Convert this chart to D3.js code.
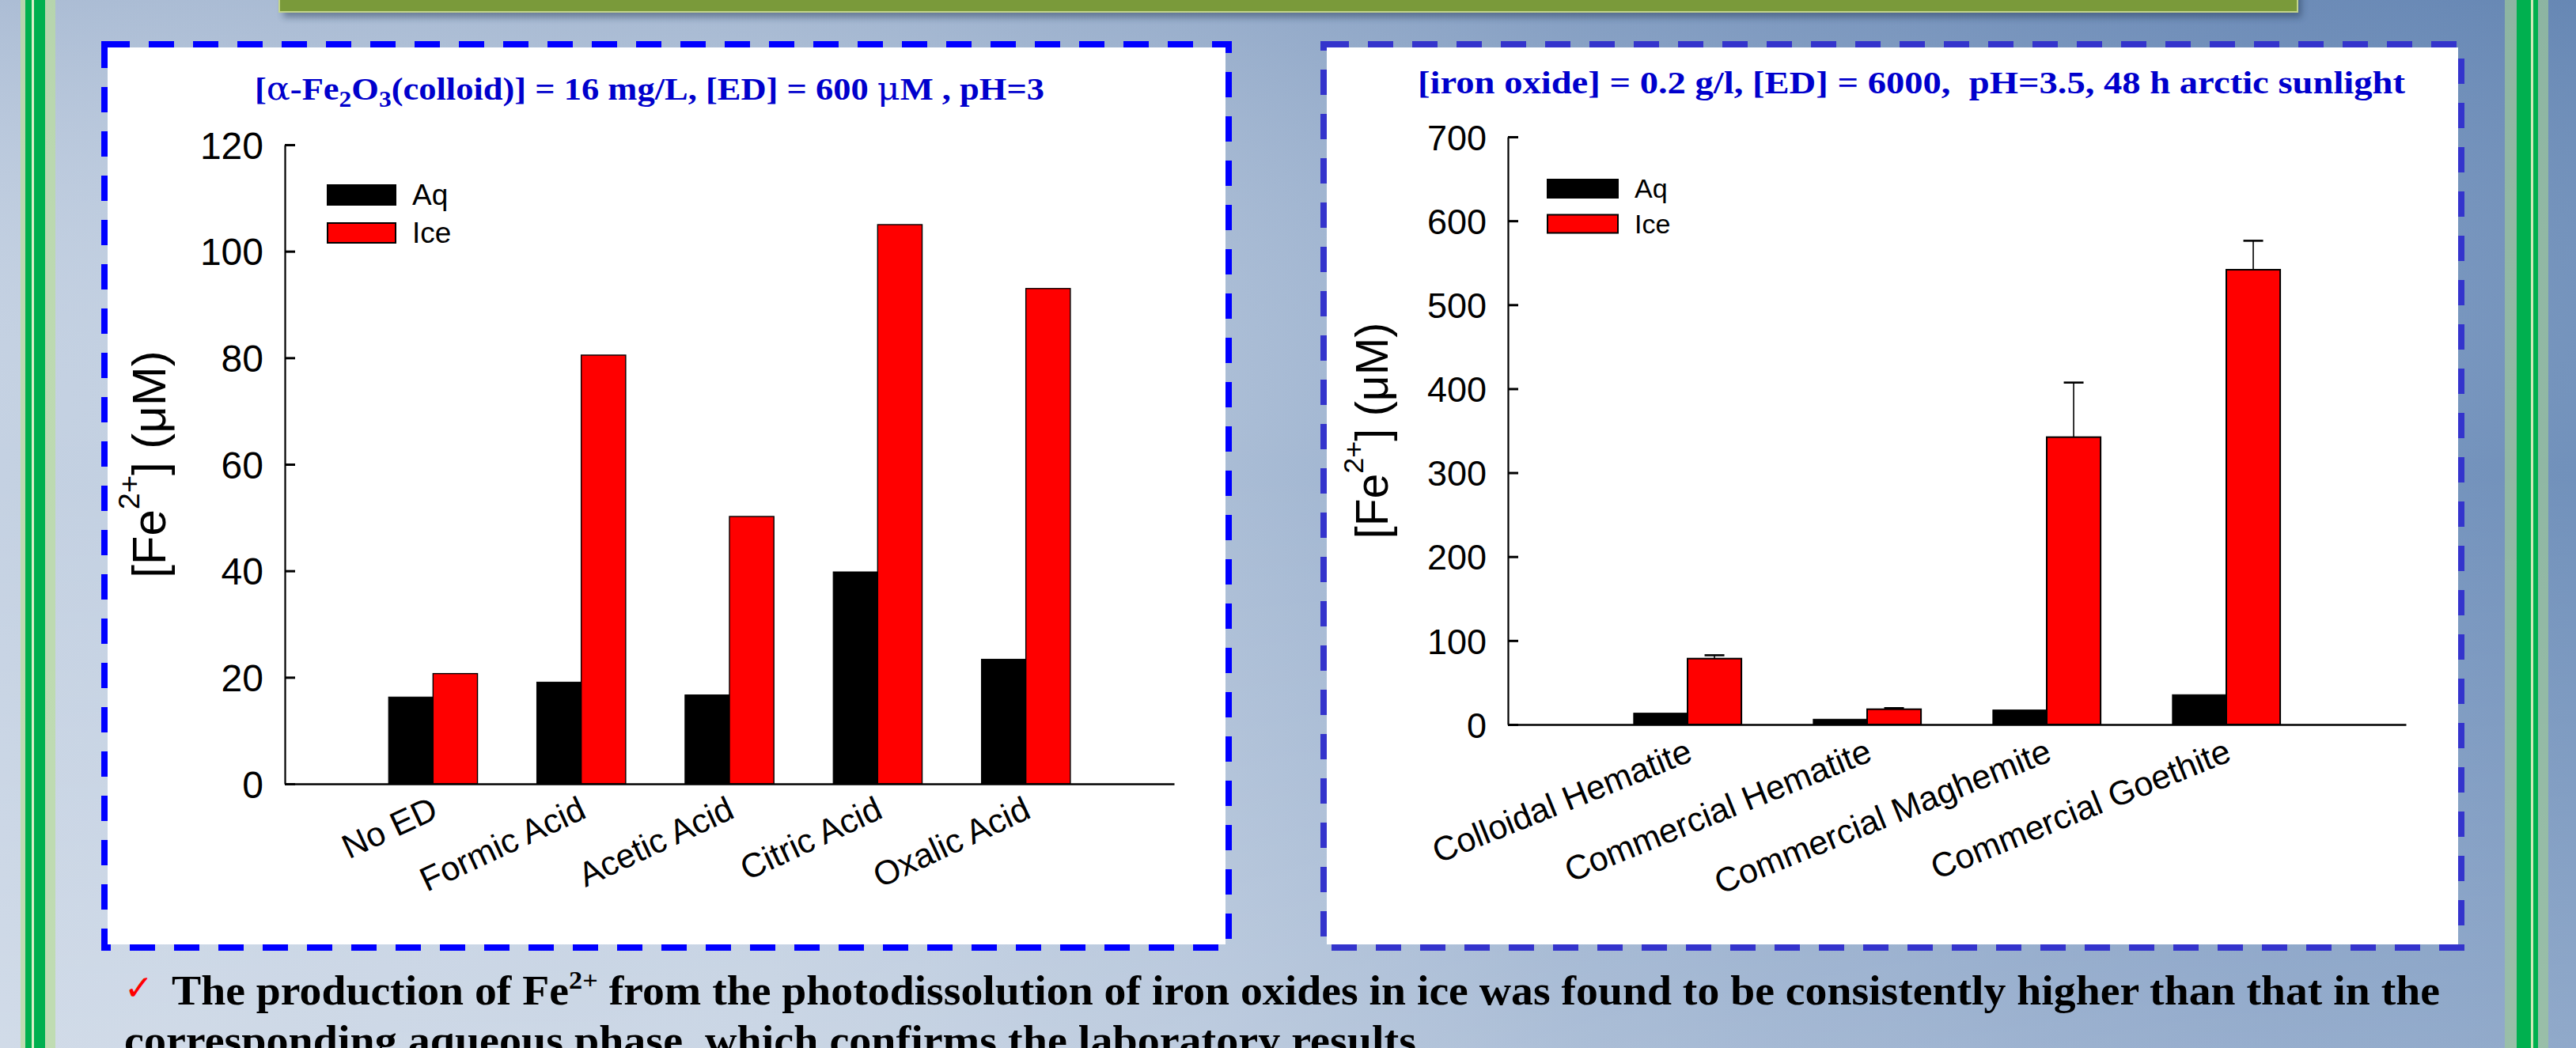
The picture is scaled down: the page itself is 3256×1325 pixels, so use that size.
<!DOCTYPE html>
<html><head><meta charset="utf-8">
<script src="https://cdn.jsdelivr.net/npm/d3@7"></script>
<style>html,body{margin:0;padding:0;overflow:hidden;background:#b8c8dc}</style>
</head><body><svg id="poster" width="3256" height="1325"></svg>
<script>
// ---------- data ----------
const leftCategories = ["No ED", "Formic Acid", "Acetic Acid", "Citric Acid", "Oxalic Acid"];
const leftAq  = [16.3, 19.1, 16.7, 39.8, 23.4];
const leftIce = [20.7, 80.5, 50.2, 105.0, 93.0];
const leftTicks = [0, 20, 40, 60, 80, 100, 120];

const rightCategories = ["Colloidal Hematite", "Commercial Hematite", "Commercial Maghemite", "Commercial Goethite"];
const rightAq  = [13.5, 6.3, 17.3, 35.5];
const rightIce = [78.5, 18.2, 342.3, 541.7];
const rightIceErr = [4.0, 1.3, 65.0, 34.5];
const rightTicks = [0, 100, 200, 300, 400, 500, 600, 700];

const seriesNames = ["Aq", "Ice"];
const seriesColors = ["#000000", "#ff0000"];

const leftTitle = ["[", "α", "-Fe", "2", "O", "3", "(colloid)] = 16 mg/L, [ED] = 600 ", "μ", "M , pH=3"];
const rightTitle = "[iron oxide] = 0.2 g/l, [ED] = 6000,  pH=3.5, 48 h arctic sunlight";
const noteLine1 = ["The production of Fe", "2+", " from the photodissolution of iron oxides in ice was found to be consistently higher than that in the"];
const noteLine2 = "corresponding aqueous phase, which confirms the laboratory results";

// ---------- page ----------
const W = 3256, H = 1325;
const SANS = "'Liberation Sans', Arial, Helvetica, sans-serif";
const SERIF = "'Liberation Serif', 'Times New Roman', serif";
const svg = d3.select("#poster");
const defs = svg.append("defs");

const gH = defs.append("linearGradient").attr("id", "bgH").attr("x1", 0).attr("x2", 1).attr("y1", 0).attr("y2", 0);
[[0, "#c4d1e2"], [0.3, "#bccbde"], [0.48, "#a9bcd5"], [0.62, "#93abcb"], [0.85, "#7b98c0"], [1, "#7191bb"]]
  .forEach(([o, c]) => gH.append("stop").attr("offset", o).attr("stop-color", c));
const gV = defs.append("linearGradient").attr("id", "bgV").attr("x1", 0).attr("x2", 0).attr("y1", 0).attr("y2", 1);
[[0, "#2f5590", 0.16], [0.45, "#ffffff", 0], [1, "#ffffff", 0.22]]
  .forEach(([o, c, a]) => gV.append("stop").attr("offset", o).attr("stop-color", c).attr("stop-opacity", a));
const blur = defs.append("filter").attr("id", "shadow").attr("x", "-5%").attr("y", "-50%").attr("width", "110%").attr("height", "300%");
blur.append("feGaussianBlur").attr("stdDeviation", 4);

svg.append("rect").attr("width", W).attr("height", H).attr("fill", "url(#bgH)");
svg.append("rect").attr("width", W).attr("height", H).attr("fill", "url(#bgV)");

// green side stripes
function stripes(parts) {
  parts.forEach(([x0, x1, c, op]) => svg.append("rect").attr("x", x0).attr("y", 0).attr("width", x1 - x0).attr("height", H).attr("fill", c).attr("opacity", op));
}
stripes([[26, 70, "#b9dca0", 0.75], [32, 40, "#00b04f", 1], [40, 43, "#dcefc8", 1], [43, 57, "#00b04f", 1]]);
stripes([[3166, 3221, "#9cc79a", 0.7], [3181, 3199, "#00b04f", 1], [3199, 3202, "#cfe8b8", 1], [3202, 3208, "#00b04f", 1]]);

// header bar
svg.append("rect").attr("x", 358).attr("y", -10).attr("width", 2551).attr("height", 32).attr("fill", "#1e3050").attr("opacity", 0.45).attr("filter", "url(#shadow)");
svg.append("rect").attr("x", 353).attr("y", -4).attr("width", 2551).attr("height", 19).attr("fill", "#7a9a3a").attr("stroke", "#c3d58a").attr("stroke-width", 2);

// panels
function panel(x0, y0, x1, y1, dashColor) {
  svg.append("rect").attr("x", x0 + 4).attr("y", y0 + 4).attr("width", x1 - x0 - 8).attr("height", y1 - y0 - 8).attr("fill", "#ffffff");
  svg.append("rect").attr("x", x0).attr("y", y0).attr("width", x1 - x0).attr("height", y1 - y0)
    .attr("fill", "none").attr("stroke", dashColor).attr("stroke-width", 8).attr("stroke-dasharray", "32 24");
}
panel(132, 56, 1553, 1198, "#0000ff");
panel(1673, 56, 3111, 1198, "#3434cc");

// ---------- chart ----------
function drawChart(cfg) {
  const g = svg.append("g");
  const x = d3.scalePoint().domain(cfg.categories).range([cfg.x0, cfg.x1]).padding(1);
  const y = d3.scaleLinear().domain([0, cfg.yMax]).range([cfg.yBottom, cfg.yTop]);
  const bw = x.step() * 0.3;

  // bars
  g.selectAll("rect.aq").data(cfg.aq).join("rect").attr("class", "aq")
    .attr("x", (d, i) => x(cfg.categories[i]) - bw).attr("y", d => y(d))
    .attr("width", bw).attr("height", d => y(0) - y(d))
    .attr("fill", seriesColors[0]).attr("stroke", "#000").attr("stroke-width", 1);
  g.selectAll("rect.ice").data(cfg.ice).join("rect").attr("class", "ice")
    .attr("x", (d, i) => x(cfg.categories[i])).attr("y", d => y(d))
    .attr("width", bw).attr("height", d => y(0) - y(d))
    .attr("fill", seriesColors[1]).attr("stroke", "#000").attr("stroke-width", cfg.iceStroke);

  // error bars
  if (cfg.err) {
    cfg.err.forEach((e, i) => {
      const cx = x(cfg.categories[i]) + bw / 2;
      g.append("line").attr("x1", cx).attr("x2", cx).attr("y1", y(cfg.ice[i])).attr("y2", y(cfg.ice[i] + e))
        .attr("stroke", "#000").attr("stroke-width", 1.6);
      g.append("line").attr("x1", cx - 12.5).attr("x2", cx + 12.5).attr("y1", y(cfg.ice[i] + e)).attr("y2", y(cfg.ice[i] + e))
        .attr("stroke", "#000").attr("stroke-width", 2.6);
    });
  }

  // y axis
  const ya = g.append("g").attr("transform", `translate(${cfg.x0},0)`)
    .call(d3.axisLeft(y).tickValues(cfg.ticks).tickSizeInner(-13).tickSizeOuter(0).tickPadding(27).tickFormat(d3.format("d")));
  ya.select(".domain").attr("stroke", "#000").attr("stroke-width", 2.2);
  ya.selectAll(".tick line").attr("stroke", "#000").attr("stroke-width", 3);
  ya.selectAll(".tick text").attr("font-family", SANS).attr("font-size", cfg.tickFont).attr("fill", "#000").attr("dy", "0.36em");

  // x axis
  const xa = g.append("g").attr("transform", `translate(0,${cfg.yBottom})`)
    .call(d3.axisBottom(x).tickSize(0).tickSizeOuter(0));
  xa.select(".domain").attr("stroke", "#000").attr("stroke-width", 2.6);
  xa.selectAll(".tick text").attr("x", 0).attr("y", 0).attr("dy", 0)
    .attr("font-family", SANS).attr("font-size", cfg.xFont).attr("fill", "#000")
    .attr("text-anchor", "end").attr("transform", `translate(8,${cfg.xLabDy}) rotate(${-cfg.angle})`);

  // y label
  const f = cfg.ylabFont;
  const yl = g.append("text").attr("transform", `translate(${cfg.ylabX},${(cfg.yTop + cfg.yBottom) / 2}) rotate(-90)`)
    .attr("text-anchor", "middle").attr("font-family", SANS).attr("font-size", f).attr("fill", "#000");
  yl.append("tspan").text("[Fe");
  yl.append("tspan").attr("dy", -0.55 * f).attr("font-size", 0.63 * f).text("2+");
  yl.append("tspan").attr("dy", 0.55 * f).text("] (μM)");

  // legend
  seriesNames.forEach((s, i) => {
    const ly = cfg.legY + i * cfg.legGap;
    g.append("rect").attr("x", cfg.legX).attr("y", ly).attr("width", cfg.legW).attr("height", cfg.legH)
      .attr("fill", seriesColors[i]).attr("stroke", "#000").attr("stroke-width", 2);
    g.append("text").attr("x", cfg.legX + cfg.legW + 21).attr("y", ly + cfg.legH)
      .attr("font-family", SANS).attr("font-size", cfg.legFont).attr("fill", "#000").text(s);
  });
}

drawChart({
  categories: leftCategories, aq: leftAq, ice: leftIce, err: null, ticks: leftTicks,
  x0: 360, x1: 1484, yBottom: 991, yTop: 183, yMax: 120,
  tickFont: 48, xFont: 43, angle: 25, xLabDy: 42, iceStroke: 1.4,
  ylabX: 209, ylabFont: 60,
  legX: 414, legY: 234, legW: 86, legH: 25, legGap: 48, legFont: 37
});
drawChart({
  categories: rightCategories, aq: rightAq, ice: rightIce, err: rightIceErr, ticks: rightTicks,
  x0: 1906, x1: 3041, yBottom: 916, yTop: 173, yMax: 700,
  tickFont: 45, xFont: 43, angle: 22, xLabDy: 45, iceStroke: 2,
  ylabX: 1754, ylabFont: 57,
  legX: 1956, legY: 227, legW: 89, legH: 23, legGap: 44.5, legFont: 34
});

// titles
const t1 = svg.append("text").attr("x", 821).attr("y", 126).attr("text-anchor", "middle")
  .attr("font-family", SERIF).attr("font-weight", "bold").attr("font-size", 41).attr("fill", "#0000cc")
  .attr("textLength", 998).attr("lengthAdjust", "spacingAndGlyphs").style("white-space", "pre");
leftTitle.forEach((s, i) => {
  const ts = t1.append("tspan").text(s);
  if (i === 3 || i === 5) ts.attr("dy", 9).attr("font-size", 29);
  if (i === 4 || i === 6) ts.attr("dy", -9);
  if (i === 1 || i === 7) ts.attr("font-weight", "normal").attr("font-family", "'DejaVu Serif', serif");
});
svg.append("text").attr("x", 2416).attr("y", 118).attr("text-anchor", "middle")
  .attr("font-family", SERIF).attr("font-weight", "bold").attr("font-size", 41).attr("fill", "#0000cc")
  .attr("textLength", 1248).attr("lengthAdjust", "spacingAndGlyphs").style("white-space", "pre").text(rightTitle);

// bottom note
svg.append("text").attr("x", 157).attr("y", 1264).attr("font-family", "'DejaVu Sans', sans-serif")
  .attr("font-size", 44).attr("fill", "#ff0000").text("✓");
const n1 = svg.append("text").attr("x", 217).attr("y", 1270)
  .attr("font-family", SERIF).attr("font-weight", "bold").attr("font-size", 52).attr("fill", "#000")
  .attr("textLength", 2867).attr("lengthAdjust", "spacingAndGlyphs").style("white-space", "pre");
noteLine1.forEach((s, i) => {
  const ts = n1.append("tspan").text(s);
  if (i === 1) ts.attr("dy", -20).attr("font-size", 32);
  if (i === 2) ts.attr("dy", 20);
});
svg.append("text").attr("x", 157).attr("y", 1333)
  .attr("font-family", SERIF).attr("font-weight", "bold").attr("font-size", 52).attr("fill", "#000")
  .attr("textLength", 1633).attr("lengthAdjust", "spacingAndGlyphs").text(noteLine2);
</script>
</body></html>
